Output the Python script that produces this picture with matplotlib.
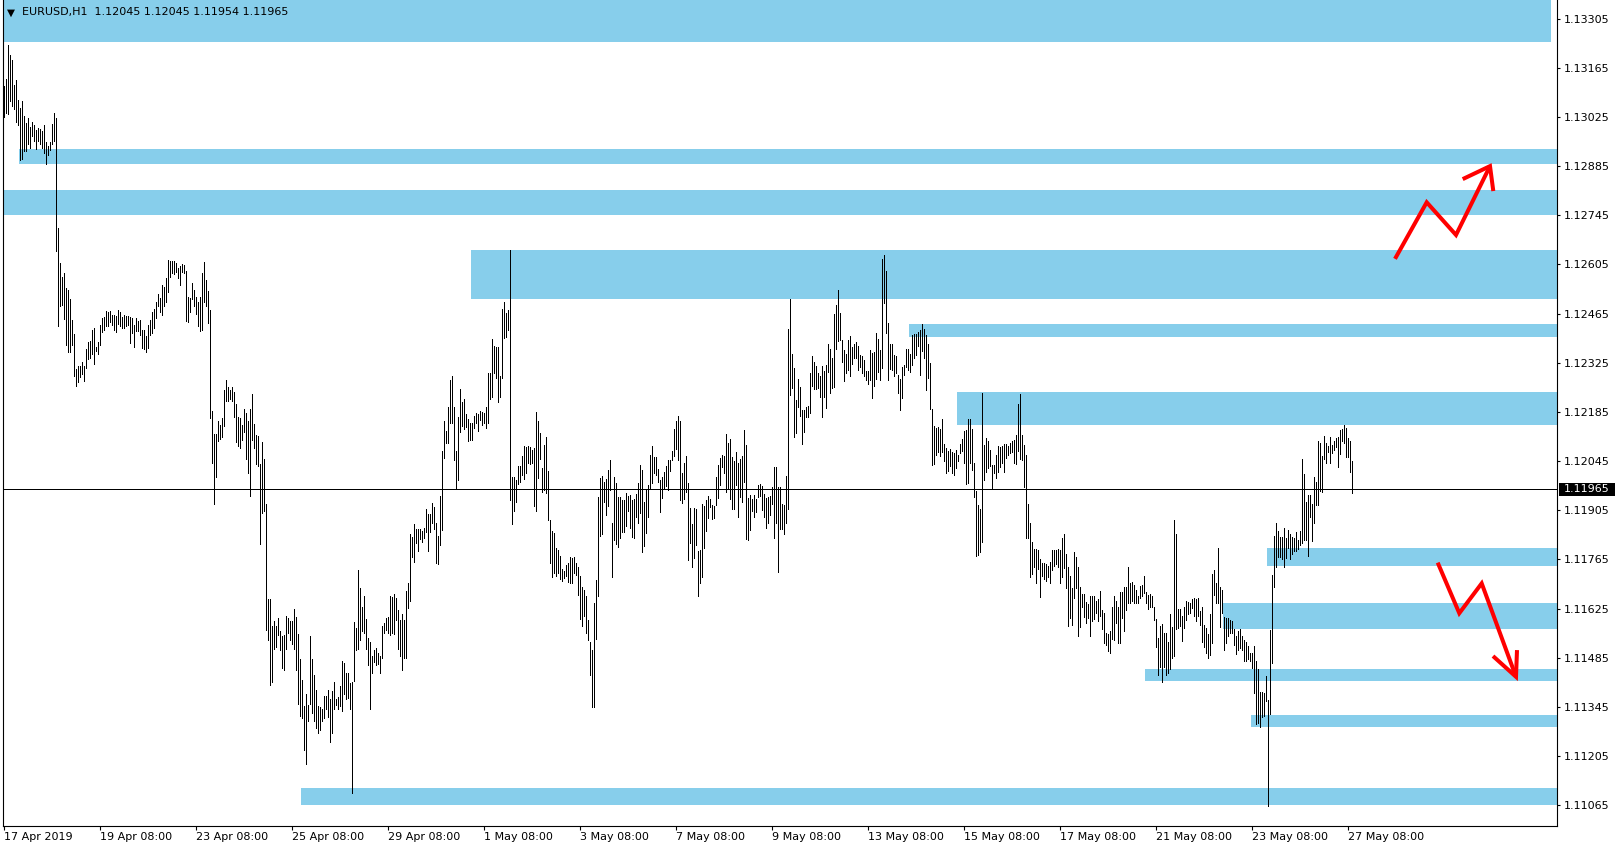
import matplotlib

matplotlib.use("Agg")
import matplotlib.pyplot as plt
import numpy as np
from matplotlib.transforms import blended_transform_factory

# EURUSD H1 bar highs / lows (17 Apr 2019 08:00 onwards)
highs = [
    1.13112, 1.13134, 1.13231, 1.13202, 1.13188, 1.13115, 1.13130, 1.13074, 1.13051, 1.13070,
    1.13028, 1.13009, 1.13021, 1.12995, 1.13012, 1.13002, 1.12987, 1.12994, 1.12991, 1.12986,
    1.13001, 1.12953, 1.12941, 1.12953, 1.13006, 1.13035, 1.13021, 1.12709, 1.12608, 1.12570,
    1.12581, 1.12537, 1.12533, 1.12507, 1.12448, 1.12407, 1.12307, 1.12316, 1.12316, 1.12326,
    1.12316, 1.12364, 1.12384, 1.12388, 1.12418, 1.12425, 1.12370, 1.12384, 1.12434, 1.12452,
    1.12455, 1.12472, 1.12469, 1.12472, 1.12461, 1.12461, 1.12458, 1.12475, 1.12469, 1.12456,
    1.12461, 1.12459, 1.12459, 1.12456, 1.12452, 1.12434, 1.12452, 1.12445, 1.12448, 1.12418,
    1.12418, 1.12402, 1.12434, 1.12448, 1.12469, 1.12479, 1.12499, 1.12520, 1.12510, 1.12547,
    1.12540, 1.12567, 1.12619, 1.12616, 1.12614, 1.12616, 1.12608, 1.12594, 1.12600, 1.12605,
    1.12604, 1.12587, 1.12513, 1.12510, 1.12551, 1.12533, 1.12513, 1.12499, 1.12513, 1.12581,
    1.12612, 1.12560, 1.12529, 1.12476, 1.12187, 1.12122, 1.12122, 1.12160, 1.12149, 1.12167,
    1.12248, 1.12276, 1.12255, 1.12248, 1.12255, 1.12242, 1.12208, 1.12171, 1.12167, 1.12147,
    1.12194, 1.12181, 1.12158, 1.12194, 1.12235, 1.12152, 1.12120, 1.12117, 1.12038, 1.12099,
    1.12052, 1.11923, 1.11652, 1.11652, 1.11577, 1.11591, 1.11577, 1.11598, 1.11561, 1.11548,
    1.11550, 1.11604, 1.11598, 1.11591, 1.11591, 1.11625, 1.11602, 1.11553, 1.11482, 1.11421,
    1.11347, 1.11381, 1.11350, 1.11548, 1.11482, 1.11435, 1.11394, 1.11347, 1.11344, 1.11340,
    1.11377, 1.11377, 1.11394, 1.11367, 1.11390, 1.11415, 1.11367, 1.11374, 1.11404, 1.11476,
    1.11469, 1.11441, 1.11443, 1.11413, 1.11415, 1.11586, 1.11569, 1.11735, 1.11683, 1.11631,
    1.11660, 1.11595, 1.11541, 1.11531, 1.11489, 1.11506, 1.11512, 1.11500, 1.11491, 1.11576,
    1.11584, 1.11598, 1.11601, 1.11660, 1.11658, 1.11667, 1.11655, 1.11622, 1.11593, 1.11610,
    1.11593, 1.11674, 1.11699, 1.11838, 1.11830, 1.11866, 1.11851, 1.11851, 1.11851, 1.11845,
    1.11854, 1.11908, 1.11895, 1.11895, 1.11925, 1.11914, 1.11870, 1.11832, 1.11946, 1.12075,
    1.12158, 1.12132, 1.12200, 1.12276, 1.12288, 1.12200, 1.12075, 1.12172, 1.12250, 1.12212,
    1.12221, 1.12180, 1.12164, 1.12153, 1.12155, 1.12174, 1.12183, 1.12180, 1.12189, 1.12186,
    1.12183, 1.12200, 1.12297, 1.12297, 1.12394, 1.12373, 1.12371, 1.12369, 1.12288, 1.12478,
    1.12497, 1.12466, 1.12474, 1.12645, 1.11999, 1.11999, 1.11990, 1.12032, 1.12030, 1.12060,
    1.12089, 1.12085, 1.12087, 1.12085, 1.12077, 1.12082, 1.12186, 1.12158, 1.12126, 1.12025,
    1.12091, 1.12115, 1.12018, 1.11878, 1.11845, 1.11840, 1.11797, 1.11792, 1.11775, 1.11737,
    1.11731, 1.11750, 1.11754, 1.11773, 1.11769, 1.11772, 1.11756, 1.11745, 1.11717, 1.11688,
    1.11679, 1.11660, 1.11593, 1.11531, 1.11506, 1.11642, 1.11707, 1.11944, 1.11996, 1.12003,
    1.11987, 1.11994, 1.12020, 1.12049, 1.11870, 1.12001, 1.11984, 1.11944, 1.11944, 1.11933,
    1.11935, 1.11954, 1.11946, 1.11949, 1.11933, 1.11937, 1.11952, 1.11982, 1.12034, 1.12020,
    1.11930, 1.11963, 1.11977, 1.12063, 1.12087, 1.12058, 1.12058, 1.12022, 1.11990, 1.12001,
    1.12015, 1.12030, 1.12047, 1.12049, 1.12075, 1.12136, 1.12158, 1.12174, 1.12158, 1.12011,
    1.12039, 1.12060, 1.11984, 1.11911, 1.11866, 1.11911, 1.11908, 1.11788, 1.11792, 1.11923,
    1.11918, 1.11933, 1.11946, 1.11937, 1.11921, 1.11916, 1.11999, 1.12034, 1.12053, 1.12063,
    1.12060, 1.12123, 1.12098, 1.12108, 1.12056, 1.12044, 1.12072, 1.12041, 1.12051, 1.12060,
    1.12134, 1.12091, 1.11940, 1.11949, 1.11937, 1.11949, 1.11937, 1.11977, 1.11979, 1.11975,
    1.11952, 1.11940, 1.11942, 1.11946, 1.11971, 1.12028, 1.12028, 1.11971, 1.11971, 1.11923,
    1.11921, 1.12003, 1.12421, 1.12506, 1.12350, 1.12310, 1.12218, 1.12278, 1.12257, 1.12191,
    1.12191, 1.12200, 1.12202, 1.12297, 1.12345, 1.12326, 1.12316, 1.12297, 1.12288, 1.12316,
    1.12303, 1.12319, 1.12379, 1.12364, 1.12338, 1.12464, 1.12490, 1.12533, 1.12468, 1.12390,
    1.12362, 1.12350, 1.12390, 1.12402, 1.12369, 1.12379, 1.12383, 1.12373, 1.12348, 1.12343,
    1.12333, 1.12303, 1.12303, 1.12362, 1.12354, 1.12357, 1.12409, 1.12392, 1.12362, 1.12620,
    1.12632, 1.12585, 1.12438, 1.12379, 1.12379, 1.12348, 1.12345, 1.12291, 1.12278, 1.12314,
    1.12319, 1.12364, 1.12364, 1.12350, 1.12405, 1.12406, 1.12407, 1.12414, 1.12419, 1.12436,
    1.12421, 1.12405, 1.12379, 1.12324, 1.12193, 1.12144, 1.12139, 1.12142, 1.12136, 1.12164,
    1.12094, 1.12082, 1.12075, 1.12079, 1.12070, 1.12068, 1.12077, 1.12063, 1.12094, 1.12108,
    1.12132, 1.12134, 1.12164, 1.12164, 1.12136, 1.12041, 1.11959, 1.11921, 1.11908, 1.12240,
    1.12091, 1.12110, 1.12101, 1.12077, 1.12034, 1.12034, 1.12063, 1.12089, 1.12085, 1.12087,
    1.12094, 1.12094, 1.12089, 1.12098, 1.12101, 1.12106, 1.12120, 1.12208, 1.12237, 1.12120,
    1.12091, 1.12063, 1.11923, 1.11868, 1.11816, 1.11794, 1.11794, 1.11792, 1.11766, 1.11754,
    1.11756, 1.11753, 1.11747, 1.11759, 1.11791, 1.11791, 1.11792, 1.11794, 1.11792, 1.11826,
    1.11838, 1.11781, 1.11745, 1.11718, 1.11683, 1.11785, 1.11772, 1.11743, 1.11688, 1.11667,
    1.11667, 1.11645, 1.11639, 1.11660, 1.11661, 1.11661, 1.11648, 1.11652, 1.11674, 1.11620,
    1.11612, 1.11557, 1.11553, 1.11560, 1.11631, 1.11660, 1.11648, 1.11631, 1.11671, 1.11671,
    1.11688, 1.11688, 1.11745, 1.11698, 1.11702, 1.11693, 1.11677, 1.11660, 1.11690, 1.11693,
    1.11718, 1.11671, 1.11664, 1.11667, 1.11660, 1.11631, 1.11595, 1.11541, 1.11576, 1.11582,
    1.11557, 1.11555, 1.11531, 1.11610, 1.11572, 1.11876, 1.11838, 1.11623, 1.11623, 1.11605,
    1.11629, 1.11648, 1.11645, 1.11642, 1.11652, 1.11655, 1.11652, 1.11655, 1.11617, 1.11631,
    1.11579, 1.11569, 1.11553, 1.11610, 1.11724, 1.11734, 1.11699, 1.11797, 1.11688, 1.11679,
    1.11601, 1.11598, 1.11598, 1.11593, 1.11591, 1.11567, 1.11546, 1.11560, 1.11567, 1.11548,
    1.11536, 1.11529, 1.11519, 1.11500, 1.11498, 1.11519, 1.11477, 1.11453, 1.11389, 1.11389,
    1.11386, 1.11434, 1.11365, 1.11565, 1.11721, 1.11832, 1.11870, 1.11847, 1.11830, 1.11830,
    1.11854, 1.11826, 1.11849, 1.11838, 1.11830, 1.11826, 1.11842, 1.11821, 1.11845, 1.12051,
    1.12009, 1.11930, 1.11949, 1.11949, 1.11923, 1.12001, 1.11987, 1.12101, 1.12096, 1.12060,
    1.12117, 1.12098, 1.12089, 1.12113, 1.12091, 1.12101, 1.12110, 1.12115, 1.12134, 1.12136,
    1.12148, 1.12139, 1.12110, 1.12101, 1.12045,
]
lows = [
    1.13024, 1.13035, 1.13033, 1.13071, 1.13055, 1.13048, 1.13012, 1.13001, 1.12903, 1.12905,
    1.12929, 1.12928, 1.12947, 1.12938, 1.12971, 1.12956, 1.12933, 1.12957, 1.12947, 1.12938,
    1.12922, 1.12891, 1.12917, 1.12930, 1.12947, 1.12957, 1.12644, 1.12429, 1.12488, 1.12490,
    1.12449, 1.12377, 1.12357, 1.12357, 1.12375, 1.12286, 1.12259, 1.12269, 1.12285, 1.12293,
    1.12273, 1.12309, 1.12337, 1.12339, 1.12350, 1.12323, 1.12360, 1.12350, 1.12377, 1.12414,
    1.12418, 1.12429, 1.12431, 1.12442, 1.12434, 1.12418, 1.12412, 1.12436, 1.12431, 1.12425,
    1.12425, 1.12431, 1.12434, 1.12381, 1.12411, 1.12370, 1.12415, 1.12415, 1.12404, 1.12366,
    1.12364, 1.12357, 1.12368, 1.12404, 1.12411, 1.12425, 1.12452, 1.12486, 1.12469, 1.12461,
    1.12486, 1.12497, 1.12526, 1.12570, 1.12581, 1.12578, 1.12583, 1.12567, 1.12547, 1.12583,
    1.12581, 1.12445, 1.12442, 1.12469, 1.12506, 1.12486, 1.12465, 1.12429, 1.12415, 1.12418,
    1.12497, 1.12486, 1.12438, 1.12167, 1.12041, 1.11923, 1.12000, 1.12103, 1.12109, 1.12113,
    1.12144, 1.12215, 1.12215, 1.12221, 1.12215, 1.12170, 1.12099, 1.12088, 1.12082, 1.12106,
    1.12129, 1.12052, 1.12011, 1.11946, 1.12106, 1.12082, 1.12038, 1.12032, 1.11808, 1.11896,
    1.11903, 1.11564, 1.11537, 1.11408, 1.11417, 1.11510, 1.11516, 1.11550, 1.11507, 1.11455,
    1.11449, 1.11510, 1.11557, 1.11537, 1.11523, 1.11510, 1.11449, 1.11354, 1.11320, 1.11313,
    1.11222, 1.11184, 1.11306, 1.11354, 1.11327, 1.11306, 1.11286, 1.11272, 1.11279, 1.11306,
    1.11313, 1.11340, 1.11317, 1.11245, 1.11272, 1.11340, 1.11350, 1.11340, 1.11347, 1.11333,
    1.11381, 1.11367, 1.11370, 1.11339, 1.11100, 1.11418, 1.11508, 1.11510, 1.11536, 1.11560,
    1.11557, 1.11510, 1.11465, 1.11339, 1.11443, 1.11472, 1.11465, 1.11468, 1.11443, 1.11484,
    1.11555, 1.11565, 1.11557, 1.11550, 1.11557, 1.11553, 1.11593, 1.11510, 1.11489, 1.11451,
    1.11484, 1.11484, 1.11626, 1.11648, 1.11773, 1.11759, 1.11813, 1.11788, 1.11823, 1.11816,
    1.11826, 1.11842, 1.11788, 1.11842, 1.11868, 1.11851, 1.11756, 1.11753, 1.11807, 1.11849,
    1.12053, 1.12096, 1.12098, 1.12155, 1.12153, 1.12049, 1.11968, 1.11992, 1.12129, 1.12144,
    1.12136, 1.12142, 1.12101, 1.12104, 1.12106, 1.12139, 1.12155, 1.12132, 1.12163, 1.12148,
    1.12155, 1.12139, 1.12153, 1.12221, 1.12229, 1.12297, 1.12281, 1.12212, 1.12227, 1.12281,
    1.12395, 1.12398, 1.12417, 1.11935, 1.11866, 1.11902, 1.11930, 1.11980, 1.11987, 1.12006,
    1.11994, 1.12011, 1.12041, 1.12037, 1.12041, 1.11916, 1.11904, 1.11996, 1.12051, 1.11956,
    1.11963, 1.11954, 1.11878, 1.11754, 1.11715, 1.11726, 1.11718, 1.11726, 1.11709, 1.11705,
    1.11712, 1.11717, 1.11702, 1.11699, 1.11699, 1.11726, 1.11721, 1.11664, 1.11595, 1.11576,
    1.11603, 1.11557, 1.11536, 1.11437, 1.11344, 1.11344, 1.11538, 1.11660, 1.11832, 1.11838,
    1.11930, 1.11892, 1.11916, 1.11963, 1.11715, 1.11821, 1.11810, 1.11800, 1.11826, 1.11842,
    1.11842, 1.11859, 1.11904, 1.11854, 1.11828, 1.11826, 1.11887, 1.11868, 1.11897, 1.11785,
    1.11802, 1.11840, 1.11885, 1.11968, 1.11984, 1.12011, 1.12006, 1.11987, 1.11899, 1.11940,
    1.11968, 1.11973, 1.11963, 1.12018, 1.12047, 1.12060, 1.12079, 1.12047, 1.11935, 1.11925,
    1.11937, 1.11958, 1.11764, 1.11811, 1.11743, 1.11769, 1.11807, 1.11661, 1.11699, 1.11715,
    1.11797, 1.11847, 1.11883, 1.11914, 1.11880, 1.11883, 1.11921, 1.11940, 1.11977, 1.12028,
    1.12011, 1.11958, 1.11965, 1.11937, 1.11908, 1.11908, 1.11977, 1.11885, 1.11944, 1.11930,
    1.11987, 1.11823, 1.11821, 1.11849, 1.11904, 1.11885, 1.11899, 1.11942, 1.11946, 1.11906,
    1.11885, 1.11854, 1.11870, 1.11892, 1.11923, 1.11826, 1.11870, 1.11728, 1.11851, 1.11851,
    1.11838, 1.11868, 1.11908, 1.12234, 1.12253, 1.12113, 1.12126, 1.12200, 1.12174, 1.12094,
    1.12129, 1.12170, 1.12170, 1.12182, 1.12259, 1.12250, 1.12250, 1.12253, 1.12227, 1.12172,
    1.12229, 1.12196, 1.12300, 1.12240, 1.12253, 1.12257, 1.12364, 1.12386, 1.12390, 1.12326,
    1.12272, 1.12295, 1.12305, 1.12288, 1.12322, 1.12338, 1.12338, 1.12305, 1.12314, 1.12297,
    1.12286, 1.12276, 1.12265, 1.12276, 1.12224, 1.12259, 1.12278, 1.12300, 1.12276, 1.12310,
    1.12495, 1.12409, 1.12276, 1.12307, 1.12305, 1.12286, 1.12297, 1.12238, 1.12191, 1.12224,
    1.12291, 1.12314, 1.12305, 1.12300, 1.12319, 1.12338, 1.12348, 1.12373, 1.12291, 1.12360,
    1.12338, 1.12248, 1.12281, 1.12193, 1.12034, 1.12037, 1.12063, 1.12072, 1.12060, 1.12072,
    1.12044, 1.12011, 1.12018, 1.12030, 1.12011, 1.12006, 1.12025, 1.12044, 1.12068, 1.12075,
    1.12041, 1.11980, 1.11984, 1.12039, 1.12020, 1.11944, 1.11775, 1.11778, 1.11785, 1.11816,
    1.11992, 1.12013, 1.12025, 1.12032, 1.11968, 1.12011, 1.11996, 1.12015, 1.12028, 1.12041,
    1.12013, 1.12053, 1.12063, 1.12068, 1.12070, 1.12041, 1.12037, 1.12075, 1.12051, 1.12049,
    1.11971, 1.11826, 1.11826, 1.11716, 1.11724, 1.11743, 1.11698, 1.11737, 1.11658, 1.11718,
    1.11709, 1.11705, 1.11716, 1.11699, 1.11735, 1.11747, 1.11753, 1.11745, 1.11699, 1.11716,
    1.11740, 1.11683, 1.11576, 1.11598, 1.11579, 1.11655, 1.11683, 1.11546, 1.11572, 1.11631,
    1.11601, 1.11584, 1.11598, 1.11546, 1.11591, 1.11595, 1.11614, 1.11591, 1.11603, 1.11567,
    1.11527, 1.11522, 1.11503, 1.11500, 1.11538, 1.11536, 1.11584, 1.11527, 1.11527, 1.11598,
    1.11560, 1.11622, 1.11641, 1.11642, 1.11648, 1.11642, 1.11642, 1.11642, 1.11655, 1.11660,
    1.11669, 1.11642, 1.11623, 1.11629, 1.11631, 1.11593, 1.11515, 1.11437, 1.11460, 1.11415,
    1.11458, 1.11437, 1.11441, 1.11453, 1.11484, 1.11489, 1.11567, 1.11569, 1.11576, 1.11534,
    1.11569, 1.11593, 1.11610, 1.11614, 1.11626, 1.11603, 1.11591, 1.11605, 1.11579, 1.11529,
    1.11515, 1.11500, 1.11484, 1.11493, 1.11527, 1.11664, 1.11641, 1.11642, 1.11572, 1.11612,
    1.11506, 1.11527, 1.11546, 1.11557, 1.11555, 1.11522, 1.11496, 1.11506, 1.11512, 1.11508,
    1.11477, 1.11477, 1.11481, 1.11475, 1.11456, 1.11386, 1.11297, 1.11299, 1.11288, 1.11316,
    1.11320, 1.11361, 1.11063, 1.11326, 1.11470, 1.11688, 1.11745, 1.11773, 1.11773, 1.11766,
    1.11743, 1.11769, 1.11797, 1.11766, 1.11781, 1.11788, 1.11788, 1.11794, 1.11807, 1.11813,
    1.11821, 1.11821, 1.11775, 1.11885, 1.11819, 1.11870, 1.11921, 1.11921, 1.11961, 1.11958,
    1.12051, 1.12041, 1.12070, 1.12041, 1.12068, 1.12077, 1.12085, 1.12028, 1.12066, 1.12101,
    1.12098, 1.12058, 1.12058, 1.12013, 1.11954,
]

# date labels every 48 bars
date_ticks = [0, 48, 96, 144, 192, 240, 288, 336, 384, 432, 480, 528, 576, 624, 672]
date_labels = [
    "17 Apr 2019", "19 Apr 08:00", "23 Apr 08:00", "25 Apr 08:00", "29 Apr 08:00",
    "1 May 08:00", "3 May 08:00", "7 May 08:00", "9 May 08:00", "13 May 08:00",
    "15 May 08:00", "17 May 08:00", "21 May 08:00", "23 May 08:00", "27 May 08:00",
]
price_ticks = [
    1.13305, 1.13165, 1.13025, 1.12885, 1.12745, 1.12605, 1.12465, 1.12325, 1.12185,
    1.12045, 1.11905, 1.11765, 1.11625, 1.11485, 1.11345, 1.11205, 1.11065,
]

# supply / demand zones (start bar, end bar, bottom, top)
zone_start = [-0.5, 7.75, -0.5, 233.75, 452.75, 476.75, 631.5, 609.75, 570.75, 623.75, 148.75]
zone_end = [773.75, 776.75, 776.75, 776.75, 776.75, 776.75, 776.75, 776.75, 776.75, 776.75, 776.75]
zone_bottom = [1.13237, 1.12891, 1.12746, 1.12506, 1.12398, 1.12148, 1.11747, 1.11568, 1.11420, 1.11289, 1.11066]
zone_top = [1.13400, 1.12934, 1.12818, 1.12647, 1.12436, 1.12241, 1.11798, 1.11641, 1.11453, 1.11322, 1.11115]

last_close = 1.11965
header = "EURUSD,H1  1.12045 1.12045 1.11954 1.11965"

# hand drawn red arrows
up_path_x = [695.75, 711.6, 726.25, 743.25]
up_path_y = [1.12621, 1.12782, 1.12689, 1.12885]
up_head_x = [729.6, 743.25, 744.9]
up_head_y = [1.12848, 1.12885, 1.12814]
down_path_x = [717.1, 727.9, 739.1, 756.25]
down_path_y = [1.11756, 1.11612, 1.11697, 1.11431]
down_head_x = [744.75, 756.25, 756.75]
down_head_y = [1.11490, 1.11431, 1.11507]

ZONE_COLOR = "#87CEEB"
W, H = 1621, 850

fig = plt.figure(figsize=(W / 100, H / 100), dpi=100)
fig.patch.set_facecolor("white")
ax = fig.add_axes([2.5 / W, 24.3 / H, (1557 - 2.5) / W, 825.7 / H])
ax.set_xlim(-0.5, -0.5 + (1557 - 2.5) / 2)
ax.set_ylim(1.11007, 1.13358)

ax.bar(
    zone_start,
    np.array(zone_top) - np.array(zone_bottom),
    width=np.array(zone_end) - np.array(zone_start),
    bottom=zone_bottom,
    align="edge",
    color=ZONE_COLOR,
    linewidth=0,
    zorder=1,
)

ax.axhline(last_close, color="black", lw=0.72, zorder=2)

x = np.arange(len(highs))
ax.vlines(x, lows, highs, colors="black", linewidth=0.68, antialiased=False, zorder=3)

arrow_kw = dict(color="#FF0000", lw=2.9, solid_joinstyle="miter", solid_capstyle="butt", zorder=4)
ax.plot(up_path_x, up_path_y, **arrow_kw)
ax.plot(up_head_x, up_head_y, **arrow_kw)
ax.plot(down_path_x, down_path_y, **arrow_kw)
ax.plot(down_head_x, down_head_y, **arrow_kw)

# axes styling, MT4 look
for side in ("left", "right", "bottom"):
    ax.spines[side].set_linewidth(0.8)
    ax.spines[side].set_color("black")
ax.spines["top"].set_visible(False)

ax.yaxis.tick_right()
ax.set_yticks(price_ticks)
ax.set_yticklabels([f"{p:.5f}" for p in price_ticks])
ax.tick_params(axis="y", direction="out", length=2.5, width=0.8, pad=2.5, labelsize=8)

ax.set_xticks(date_ticks)
ax.set_xticklabels(date_labels)
ax.tick_params(axis="x", direction="out", length=3, width=0.8, pad=1.5, labelsize=8)
for lbl in ax.get_xticklabels():
    lbl.set_ha("left")

# current price label on the price scale
trans = blended_transform_factory(ax.transAxes, ax.transData)
ax.add_patch(
    plt.Rectangle((1.001, last_close - 0.00019), 0.0362, 0.00038,
                  transform=trans, facecolor="black", edgecolor="none", clip_on=False, zorder=5)
)
ax.text(1.0045, last_close, f"{last_close:.5f}", transform=trans, color="white",
        fontsize=8, va="center", ha="left", zorder=6, clip_on=False)

fig.text(6.5 / W, 1 - 12.5 / H, "\u25BC", fontsize=7.5, va="center", ha="left")
fig.text(21.5 / W, 1 - 12.5 / H, header, fontsize=8, va="center", ha="left")

fig.savefig("out.png", dpi=100, facecolor="white")
